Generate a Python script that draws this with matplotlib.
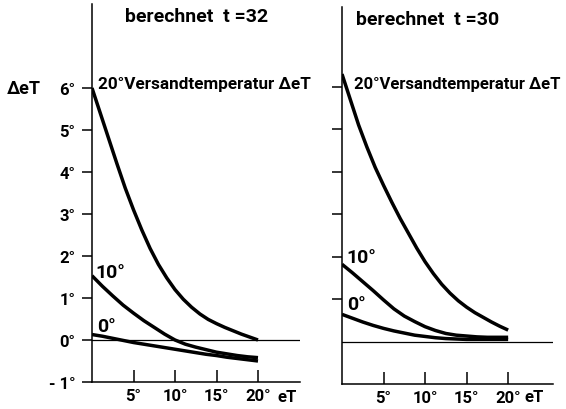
import matplotlib
matplotlib.use("Agg")
import matplotlib.pyplot as plt

plt.rcParams['font.family'] = ['Roboto', 'DejaVu Sans']
plt.rcParams['font.weight'] = 'bold'

# Data (Delta eT over eT)
x_fine = list(range(0, 21))
x_mid = [0, 1.25, 2.5, 3.75, 5, 6.25, 7.5, 8.75, 10,
         11.25, 12.5, 13.75, 15, 16.25, 17.5, 18.75, 20]

# left panel: berechnet t=32
left_20 = [6.0, 5.4, 4.8, 4.2, 3.62, 3.1, 2.62, 2.18, 1.8, 1.48, 1.2,
           0.97, 0.78, 0.62, 0.49, 0.39, 0.3, 0.22, 0.14, 0.07, 0.0]
left_10 = [1.53, 1.28, 1.05, 0.83, 0.64, 0.46, 0.3, 0.14, 0.0,
           -0.1, -0.17, -0.23, -0.29, -0.33, -0.37, -0.4, -0.42]
left_0 = [0.13, 0.09, 0.04, -0.01, -0.06, -0.1, -0.14, -0.18, -0.22,
          -0.26, -0.3, -0.34, -0.37, -0.41, -0.44, -0.47, -0.5]

# right panel: berechnet t=30
right_20 = [6.3, 5.7, 5.1, 4.58, 4.1, 3.68, 3.28, 2.9, 2.55, 2.2, 1.88,
            1.6, 1.35, 1.14, 0.96, 0.81, 0.68, 0.57, 0.46, 0.36, 0.27]
right_10 = [1.82, 1.62, 1.41, 1.2, 0.98, 0.77, 0.6, 0.47, 0.35,
            0.26, 0.19, 0.15, 0.13, 0.11, 0.1, 0.1, 0.1]
right_0 = [0.64, 0.55, 0.46, 0.38, 0.31, 0.25, 0.2, 0.15, 0.12,
           0.09, 0.07, 0.06, 0.05, 0.05, 0.05, 0.05, 0.05]

xticks = [5, 10, 15, 20]
xticklabels = ["5°", "10°", "15°", "20°"]
yticks = [-1, 0, 1, 2, 3, 4, 5, 6]
yticklabels = ["- 1°", "0°", "1°", "2°", "3°", "4°", "5°", "6°"]

W, H = 566, 410
fig = plt.figure(figsize=(W / 100, H / 100), dpi=100)
fig.patch.set_facecolor("white")


def box(left, right, bottom, top):
    return [left / W, 1 - bottom / H, (right - left) / W, (bottom - top) / H]


def put(px, py, s, size, ha="left"):
    return fig.text(px / W, 1 - py / H, s, fontsize=size, ha=ha, va="center")


ax1 = fig.add_axes(box(92, 300, 383, 5))
ax2 = fig.add_axes(box(342, 553, 385, 8))

tick_size = 12

for ax in (ax1, ax2):
    ax.spines["top"].set_visible(False)
    ax.spines["right"].set_visible(False)
    ax.spines["left"].set_linewidth(1.1)
    ax.spines["bottom"].set_linewidth(1.1)
    ax.axhline(0, color="black", lw=0.9)
    ax.set_xticks(xticks)
    ax.set_xticklabels(xticklabels, fontsize=tick_size)
    ax.tick_params(axis="x", direction="in", length=9, width=1.1, pad=4)
    ax.tick_params(axis="y", direction="out", length=7, width=1.1, pad=5)

ax1.set_xlim(0, 25.06)
ax1.set_ylim(-1, 8.0)
ax1.set_yticks(yticks)
ax1.set_yticklabels(yticklabels, fontsize=tick_size)

ax2.set_xlim(0, 25.4)
ax2.set_ylim(-1, 7.88)
ax2.set_yticks([1, 2, 3, 4, 5, 6])
ax2.set_yticklabels([])

lw = 2.5
ax1.plot(x_fine, left_20, color="black", lw=lw, solid_capstyle="butt")
ax1.plot(x_mid, left_10, color="black", lw=lw, solid_capstyle="butt")
ax1.plot(x_mid, left_0, color="black", lw=lw, solid_capstyle="butt")

ax2.plot(x_fine, right_20, color="black", lw=lw, solid_capstyle="butt")
ax2.plot(x_mid, right_10, color="black", lw=lw, solid_capstyle="butt")
ax2.plot(x_mid, right_0, color="black", lw=lw, solid_capstyle="butt")

# texts
put(197, 17, "berechnet  t =32", 14, ha="center")
put(428, 20, "berechnet  t =30", 14, ha="center")
put(24, 89, "ΔeT", 13, ha="center")
put(98, 84, "20°Versandtemperatur ΔeT", 12.3)
put(354, 84, "20°Versandtemperatur ΔeT", 12)
put(95, 273, "10°", 14)
put(97, 327, "0°", 14)
put(346, 258, "10°", 14)
put(347, 305, "0°", 14)
put(277, 398, "eT", 12)
put(524, 398, "eT", 12)

fig.savefig("out.png", dpi=100, facecolor="white")
